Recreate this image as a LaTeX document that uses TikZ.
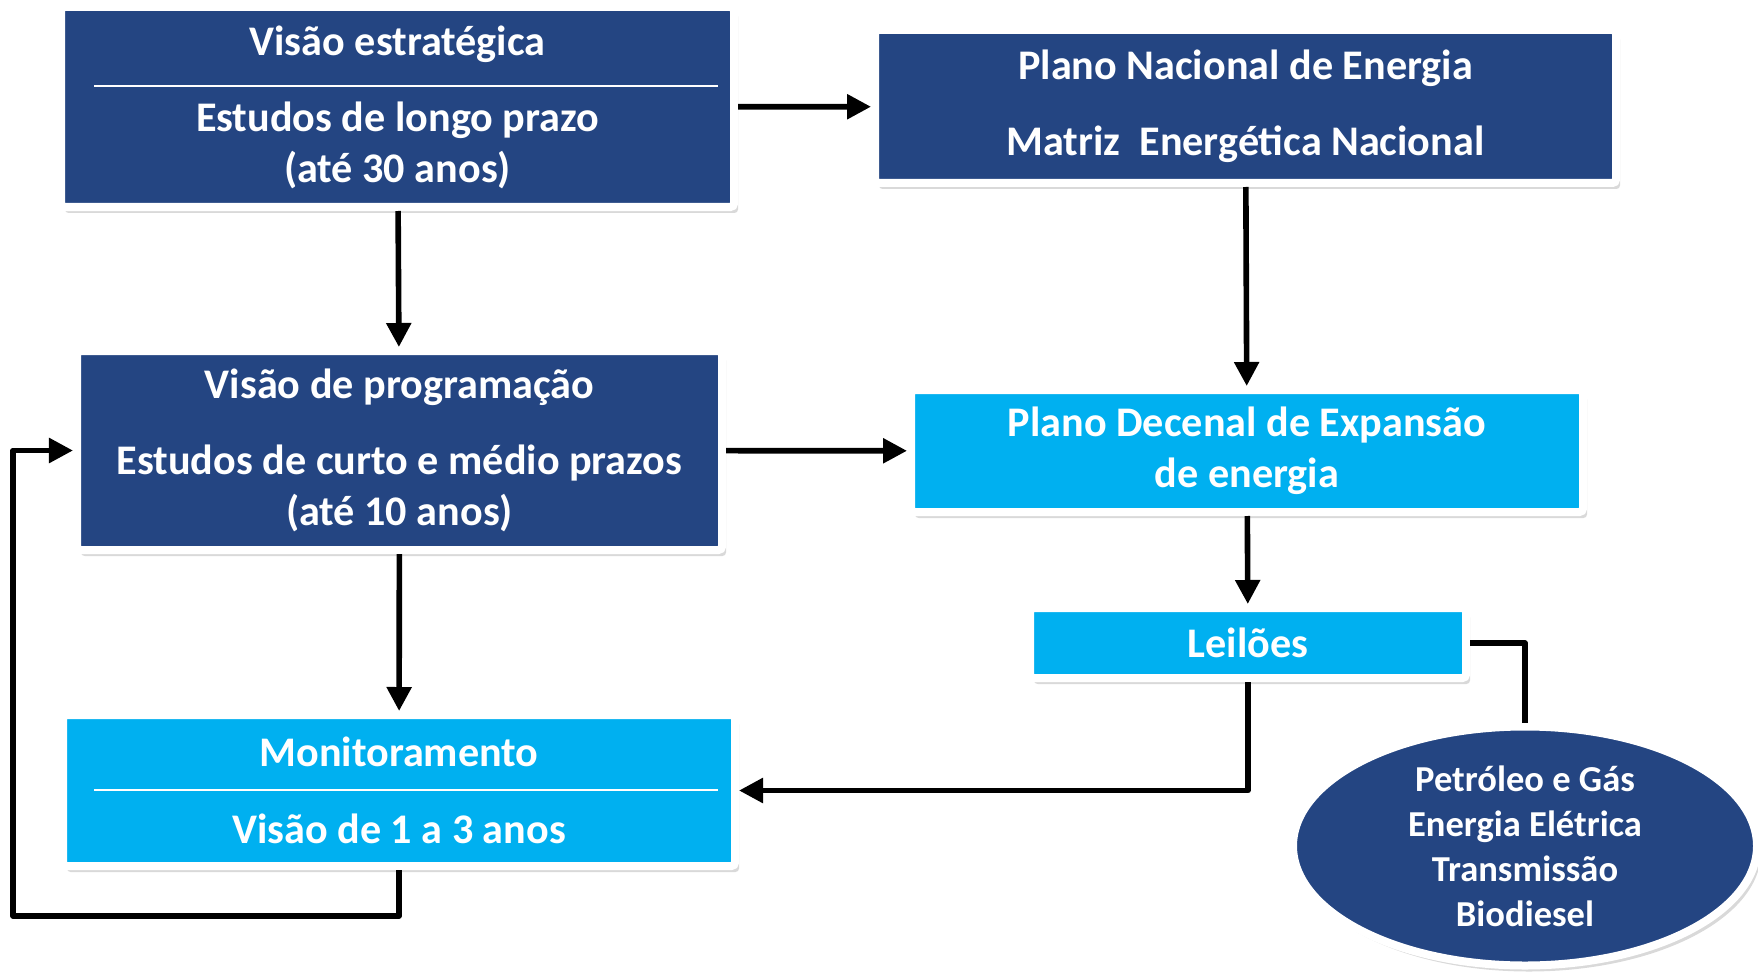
\documentclass[tikz,border=0pt]{standalone}
\usepackage{fontspec}
\setmainfont{Carlito}
\usetikzlibrary{arrows.meta,shapes.geometric,shadows}
\definecolor{navy}{HTML}{244582}
\definecolor{skyfill}{HTML}{00B0F0}

\begin{document}
\begin{tikzpicture}[
    box/.style={draw=white, line width=0.08cm, rounded corners=1pt, text=white,
      align=center, inner sep=0pt, font=\fontsize{12}{14.5}\selectfont\bfseries,
      drop shadow={opacity=0.3, shadow xshift=0.04cm, shadow yshift=-0.06cm}},
    darkbox/.style={box, fill=navy},
    lightbox/.style={box, fill=skyfill},
    flow/.style={line width=0.056cm, line join=round,
      -{Triangle[length=0.24cm, width=0.24cm]}},
  ]

    \useasboundingbox (0,0) rectangle (17.58,-9.73);

    \node[darkbox, minimum width=6.73cm, minimum height=2.00cm] (strat) at (3.975,-1.07)
      {Visão estratégica\\[0.25cm]Estudos de longo prazo\\(até 30 anos)};
    \node[darkbox, minimum width=7.41cm, minimum height=1.53cm] (pne) at (12.455,-1.065)
      {Plano Nacional de Energia\\[0.25cm]Matriz\ \ Energética Nacional};
    \node[darkbox, minimum width=6.45cm, minimum height=1.99cm] (prog) at (3.995,-4.505)
      {Visão de programação\\[0.25cm]Estudos de curto e médio prazos\\(até 10 anos)};
    \node[lightbox, minimum width=6.72cm, minimum height=1.22cm] (pde) at (12.47,-4.51)
      {Plano Decenal de Expansão\\de energia};
    \node[lightbox, minimum width=4.36cm, minimum height=0.70cm] (leil) at (12.48,-6.43)
      {Leilões};
    \node[lightbox, minimum width=6.72cm, minimum height=1.51cm] (monit) at (3.99,-7.905)
      {Monitoramento\\[0.26cm]Visão de 1 a 3 anos};
    \node[ellipse, draw=white, line width=0.08cm, fill=navy, text=white, align=center,
      inner sep=0pt, minimum width=4.64cm, minimum height=2.39cm,
      font=\fontsize{10.4}{12.8}\selectfont\bfseries,
      drop shadow={opacity=0.3, shadow xshift=0.04cm, shadow yshift=-0.06cm}] (seg) at (15.25,-8.46)
      {Petróleo e Gás\\Energia Elétrica\\Transmissão\\Biodiesel};

    \draw[white, line width=0.6pt] (0.94,-0.86) -- (7.18,-0.86);
    \draw[white, line width=0.6pt] (0.94,-7.90) -- (7.18,-7.90);

    \coordinate (back) at (0.13,-9.16);

    \draw[flow] (strat) -- (pne);
    \draw[flow] (strat) -- (prog);
    \draw[flow] (pne) -- (pde);
    \draw[flow] (prog) -- (pde);
    \draw[flow] (prog) -- (monit);
    \draw[flow] (pde) -- (leil);
    \draw[flow] (leil.south) |- (monit.east);
    \draw[flow, -] (leil.east) -| (seg.north);
    \draw[flow] (monit.south) |- (back) |- (prog.west);
\end{tikzpicture}
\end{document}
